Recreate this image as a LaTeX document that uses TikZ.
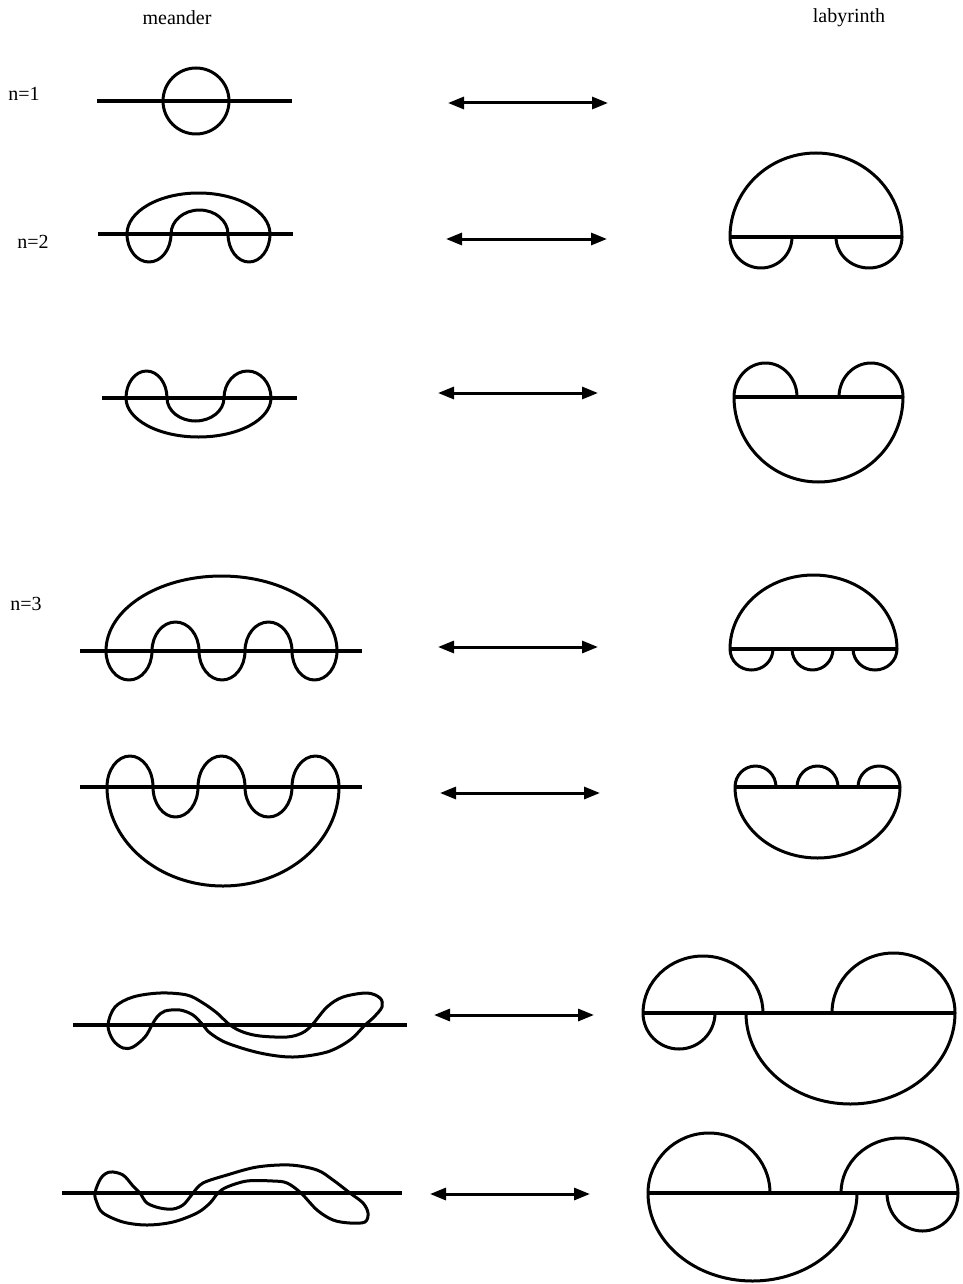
\documentclass[tikz,border=0pt]{standalone}
\usepackage{fontspec}
\setmainfont{Liberation Serif}
\usetikzlibrary{arrows.meta}
\begin{document}
\begin{tikzpicture}[x=1pt,y=1pt,
  curve/.style={line width=3pt, line join=round},
  axisln/.style={line width=3.2pt},
  biarrow/.style={line width=3pt, {Triangle[length=16pt,width=12pt]}-{Triangle[length=16pt,width=12pt]}},
  lbl/.style={font=\fontsize{20}{23}\selectfont, inner sep=0pt}]
\useasboundingbox (0,0) rectangle (962,-1284);

% labels
\node[lbl] (hm) at (177,-18) {meander};
\node[lbl] (hl) at (849,-18) {labyrinth};
\node[lbl] (n1) at (24,-94) {n=1};
\node[lbl] (n2) at (33,-242) {n=2};
\node[lbl] (n3) at (26,-604) {n=3};

% arrows
\coordinate (a1l) at (448,-103); \coordinate (a1r) at (608,-103);
\coordinate (a2l) at (446,-239); \coordinate (a2r) at (607,-239);
\coordinate (a3l) at (438,-393); \coordinate (a3r) at (598,-393);
\coordinate (a4l) at (438,-647); \coordinate (a4r) at (598,-647);
\coordinate (a5l) at (440,-793); \coordinate (a5r) at (600,-793);
\coordinate (a6l) at (434,-1015); \coordinate (a6r) at (594,-1015);
\coordinate (a7l) at (430,-1194); \coordinate (a7r) at (590,-1194);
\foreach \i in {1,...,7} {\draw[biarrow] (a\i l) -- (a\i r);}

% ---------- meanders ----------
% row 1
\draw[axisln] (97,-101) -- (292,-101);
\draw[curve] (196,-101) circle[radius=33pt];

% row 2
\draw[axisln] (98,-234) -- (293,-234);
\draw[curve] (127,-234) arc[start angle=180,end angle=0,x radius=71.5pt,y radius=41pt]
  arc[start angle=0,end angle=-180,x radius=21pt,y radius=28pt]
  arc[start angle=0,end angle=180,x radius=28.5pt,y radius=24pt]
  arc[start angle=0,end angle=-180,x radius=22pt,y radius=28pt] -- cycle;

% row 3
\draw[axisln] (102,-398) -- (297,-398);
\draw[curve] (126,-398) arc[start angle=180,end angle=0,x radius=20.5pt,y radius=27pt]
  arc[start angle=180,end angle=360,x radius=28.5pt,y radius=23pt]
  arc[start angle=180,end angle=0,x radius=23.5pt,y radius=27pt]
  arc[start angle=0,end angle=-180,x radius=72.5pt,y radius=39pt] -- cycle;

% row 4
\draw[axisln] (80,-651) -- (362,-651);
\draw[curve] (106,-651) arc[start angle=180,end angle=0,x radius=115.5pt,y radius=75pt]
  arc[start angle=0,end angle=-180,x radius=22.5pt,y radius=29pt]
  arc[start angle=0,end angle=180,x radius=23.5pt,y radius=29pt]
  arc[start angle=0,end angle=-180,x radius=23pt,y radius=29pt]
  arc[start angle=0,end angle=180,x radius=23.5pt,y radius=29pt]
  arc[start angle=0,end angle=-180,x radius=23pt,y radius=29pt] -- cycle;

% row 5
\draw[axisln] (80,-787) -- (362,-787);
\draw[curve] (107,-787) arc[start angle=180,end angle=0,x radius=23pt,y radius=31pt]
  arc[start angle=180,end angle=360,x radius=22.5pt,y radius=30pt]
  arc[start angle=180,end angle=0,x radius=23.5pt,y radius=31pt]
  arc[start angle=180,end angle=360,x radius=23.5pt,y radius=30pt]
  arc[start angle=180,end angle=0,x radius=23.5pt,y radius=31pt]
  arc[start angle=0,end angle=-180,x radius=116pt,y radius=99pt] -- cycle;

% row 6
\draw[axisln] (73,-1025) -- (407,-1025);
\draw[curve] plot[smooth cycle, tension=0.55] coordinates {
  (108,-1025) (115,-1007) (133,-997) (160,-993) (187,-995) (203,-1003) (217,-1013)
  (230,-1025) (243,-1032) (260,-1036) (287,-1037) (302,-1033) (312,-1025)
  (327,-1007) (343,-997) (367,-993) (380,-998) (382,-1007) (373,-1018)
  (365,-1025) (350,-1040) (327,-1052) (293,-1057) (260,-1053) (227,-1043)
  (210,-1033) (203,-1025) (193,-1015) (180,-1010) (165,-1011) (157,-1017)
  (152,-1025) (145,-1037) (133,-1047) (123,-1048) (113,-1040)};

% row 7
\draw[axisln] (62,-1193) -- (402,-1193);
\draw[curve] plot[smooth cycle, tension=0.55] coordinates {
  (95,-1193) (101,-1178) (110,-1172) (123,-1175) (133,-1186) (140,-1193)
  (147,-1203) (160,-1208) (173,-1209) (183,-1205) (190,-1197) (193,-1193)
  (203,-1183) (227,-1175) (257,-1167) (290,-1165) (317,-1170) (333,-1180)
  (350,-1193) (363,-1203) (368,-1213) (365,-1222) (350,-1223) (333,-1220)
  (317,-1210) (301,-1193) (287,-1183) (273,-1181) (247,-1181) (227,-1187)
  (218,-1193) (210,-1203) (197,-1213) (173,-1222) (147,-1225) (123,-1222)
  (103,-1213) (97,-1203)};

% ---------- labyrinths ----------
% row 2
\draw[axisln] (730,-237) -- (902,-237);
\draw[curve] (730,-237) arc[start angle=180,end angle=0,x radius=86pt,y radius=84pt];
\draw[curve] (730,-237) arc[start angle=180,end angle=360,x radius=31pt,y radius=31pt];
\draw[curve] (836,-237) arc[start angle=180,end angle=360,x radius=33pt,y radius=31pt];

% row 3
\draw[axisln] (734,-397) -- (903,-397);
\draw[curve] (734,-397) arc[start angle=180,end angle=360,x radius=84.5pt,y radius=85pt];
\draw[curve] (734,-397) arc[start angle=180,end angle=0,x radius=31.5pt,y radius=34pt];
\draw[curve] (839,-397) arc[start angle=180,end angle=0,x radius=32pt,y radius=34pt];

% row 4
\draw[axisln] (730,-649) -- (897,-649);
\draw[curve] (730,-649) arc[start angle=180,end angle=0,x radius=83.5pt,y radius=74pt];
\draw[curve] (730,-649) arc[start angle=180,end angle=360,x radius=21.5pt,y radius=21pt];
\draw[curve] (792,-649) arc[start angle=180,end angle=360,x radius=20.5pt,y radius=21pt];
\draw[curve] (853,-649) arc[start angle=180,end angle=360,x radius=22pt,y radius=21pt];

% row 5
\draw[axisln] (735,-787) -- (900,-787);
\draw[curve] (735,-787) arc[start angle=180,end angle=360,x radius=82.5pt,y radius=71pt];
\draw[curve] (735,-787) arc[start angle=180,end angle=0,x radius=20.5pt,y radius=21pt];
\draw[curve] (797,-787) arc[start angle=180,end angle=0,x radius=20.5pt,y radius=21pt];
\draw[curve] (858,-787) arc[start angle=180,end angle=0,x radius=21pt,y radius=21pt];

% row 6
\draw[axisln] (643,-1013) -- (955,-1013);
\draw[curve] (643,-1013) arc[start angle=180,end angle=0,x radius=60pt,y radius=57pt];
\draw[curve] (643,-1013) arc[start angle=180,end angle=360,x radius=36pt,y radius=36pt];
\draw[curve] (746,-1013) arc[start angle=180,end angle=360,x radius=104.5pt,y radius=91pt];
\draw[curve] (832,-1013) arc[start angle=180,end angle=0,x radius=61.5pt,y radius=60pt];

% row 7
\draw[axisln] (648,-1193) -- (958,-1193);
\draw[curve] (648,-1193) arc[start angle=180,end angle=0,x radius=61pt,y radius=60pt];
\draw[curve] (648,-1193) arc[start angle=180,end angle=360,x radius=104.5pt,y radius=88pt];
\draw[curve] (841,-1193) arc[start angle=180,end angle=0,x radius=58.5pt,y radius=55pt];
\draw[curve] (887,-1193) arc[start angle=180,end angle=360,x radius=35.5pt,y radius=38pt];
\end{tikzpicture}
\end{document}
